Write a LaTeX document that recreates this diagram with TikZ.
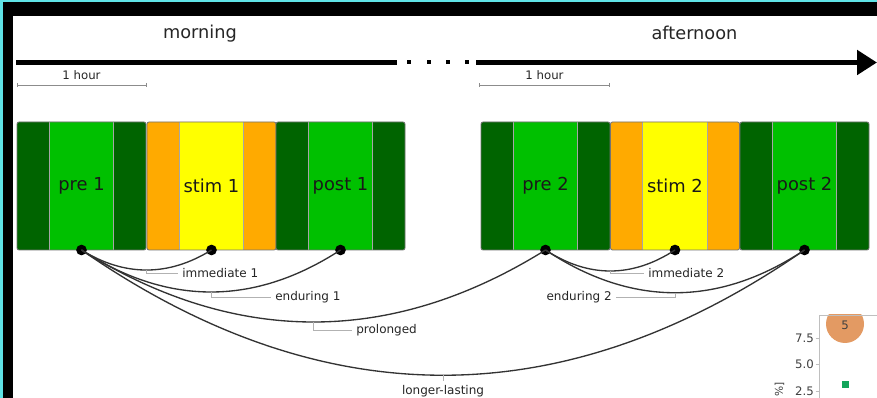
\documentclass[tikz,border=0pt]{standalone}
\usepackage{fontspec}
\setmainfont{DejaVu Sans}
\usetikzlibrary{arrows.meta}
\definecolor{dkg}{HTML}{006400}
\definecolor{ltg}{HTML}{00C000}
\definecolor{org}{HTML}{FFAA00}
\definecolor{ylw}{HTML}{FFFF00}
\definecolor{cyanb}{HTML}{5FE3E6}
\definecolor{dotc}{HTML}{E39A63}
\definecolor{sqc}{HTML}{12A55A}
\newcommand{\mkblock}[5]{%
  \fill[#2, rounded corners=1.5pt] (#1,122) rectangle ++(129,128);
  \fill[#3] (#1+32,122) rectangle ++(64.5,128);
  \draw[stripe] (#1+32,122) -- ++(0,128) (#1+96.5,122) -- ++(0,128);
  \draw[blockframe] (#1,122) rectangle ++(129,128);
  \node[blocklabel] (#4) at (#1+64.5,186) {#5};
  \node[dotnode] (d#4) at (#1+64.5,250) {};
}
\begin{document}
\begin{tikzpicture}[x=0.75pt,y=-0.75pt,
  stripe/.style={draw=black!35, line width=0.4pt},
  blockframe/.style={draw=black!55, rounded corners=1.5pt, line width=0.6pt},
  blocklabel/.style={font=\fontsize{13.4}{15}\selectfont, text=black!90, inner sep=0pt},
  bigtext/.style={font=\fontsize{13.3}{15}\selectfont, text=black!85, anchor=base, inner sep=0pt},
  scalelab/.style={font=\fontsize{8.8}{10}\selectfont, text=black!85, anchor=base, inner sep=0pt},
  scalebar/.style={draw=black!45, line width=0.6pt, {Bar[width=3pt]}-{Bar[width=3pt]}},
  dotnode/.style={circle, fill=black, inner sep=0pt, minimum size=8pt},
  link/.style={draw=black!80, line width=1pt},
  leader/.style={draw=black!30, line width=0.6pt},
  lab/.style={font=\fontsize{9}{11}\selectfont, text=black!85, inner sep=3pt},
  timeline/.style={line width=3.75pt, black},
  gapdot/.style={fill=black},
  axisline/.style={draw=black!25, line width=0.6pt},
  ticklab/.style={font=\fontsize{8.8}{10}\selectfont, text=black!75, inner sep=0pt, anchor=east}
]
\useasboundingbox (0,0) rectangle (877,398);
% screen frame
\fill[white] (0,0) rectangle (877,398);
\fill[cyanb] (0,0) rectangle (877,2.5);
\fill[cyanb] (0,0) rectangle (2.5,398);
\fill[black] (2.5,2.5) rectangle (877,16);
\fill[black] (2.5,2.5) rectangle (12.5,398);

% timeline
\node[bigtext] (morning) at (200,39) {morning};
\node[bigtext] (afternoon) at (694.5,40) {afternoon};
\draw[timeline] (16,62.5) -- (397,62.5);
\foreach \xx in {409,429,448,467} \fill[gapdot] (\xx-2,60.5) rectangle ++(4,4);
\draw[timeline, -{Triangle[length=15pt,width=18pt]}] (476,62.5) -- (877,62.5);

% scale bars
\node[scalelab] (hour1) at (81.5,80) {1 hour};
\draw[scalebar] (16.5,85) -- (147,85);
\node[scalelab] (hour2) at (544.5,80) {1 hour};
\draw[scalebar] (479,85) -- (610,85);

% blocks
\mkblock{17}{dkg}{ltg}{pre1}{pre 1}
\mkblock{147}{org}{ylw}{stim1}{stim 1}
\mkblock{276}{dkg}{ltg}{post1}{post 1}
\mkblock{481}{dkg}{ltg}{pre2}{pre 2}
\mkblock{610.5}{org}{ylw}{stim2}{stim 2}
\mkblock{740}{dkg}{ltg}{post2}{post 2}

% labels
\node[lab, anchor=west] (limm1) at (178,273) {immediate 1};
\node[lab, anchor=west] (lend1) at (271,297.5) {enduring 1};
\node[lab, anchor=west] (lprol) at (352,330.5) {prolonged};
\node[lab, anchor=north] (llong) at (443,381) {longer-lasting};
\node[lab, anchor=west] (limm2) at (644,273.5) {immediate 2};
\node[lab, anchor=east] (lend2) at (616,297.5) {enduring 2};

% connectors
\draw[link] (dpre1.center) .. controls +(43,26.7) and +(-43,26.7) .. coordinate[pos=0.5] (mimm1) (dstim1.center);
\draw[link] (dpre1.center) .. controls +(86,56) and +(-86,56) .. coordinate[pos=0.5] (mend1) (dpost1.center);
\draw[link] (dpre1.center) .. controls +(154,96) and +(-154,96) .. coordinate[pos=0.5] (mprol) (dpre2.center);
\draw[link] (dpre1.center) .. controls +(241,167) and +(-241,167) .. coordinate[pos=0.5] (mlong) (dpost2.center);
\draw[link] (dpre2.center) .. controls +(43,28) and +(-43,28) .. coordinate[pos=0.5] (mimm2) (dstim2.center);
\draw[link] (dpre2.center) .. controls +(86,57) and +(-86,57) .. coordinate[pos=0.5] (mend2) (dpost2.center);

% leaders
\draw[leader] (mimm1) |- (limm1.west);
\draw[leader] (mend1) |- (lend1.west);
\draw[leader] (mprol) |- (lprol.west);
\draw[leader] (mlong) -- (mlong |- llong.north);
\draw[leader] (mimm2) |- (limm2.west);
\draw[leader] (mend2) |- (lend2.east);

% partial plot at bottom right
\begin{scope}
  \clip (819,315) rectangle (877,398);
  \fill[dotc] (845,324) circle (19);
\end{scope}
\node[font=\fontsize{8.8}{10}\selectfont, text=black!75, inner sep=0pt] (five) at (845,325) {5};
\fill[sqc] (841.5,381.5) rectangle ++(7,7);
\draw[axisline] (819,398) -- (819,315) -- (877,315);
\foreach \yy/\tt in {338/7.5, 364/5.0, 391/2.5} {
  \draw[axisline] (815.5,\yy) -- (819,\yy);
  \node[ticklab] (tick\tt) at (814,\yy) {\tt};
}
\node[font=\fontsize{8}{9}\selectfont, text=black!75, inner sep=0pt, rotate=90, anchor=east] (unit) at (779.5,382) {\%]};
\end{tikzpicture}
\end{document}
